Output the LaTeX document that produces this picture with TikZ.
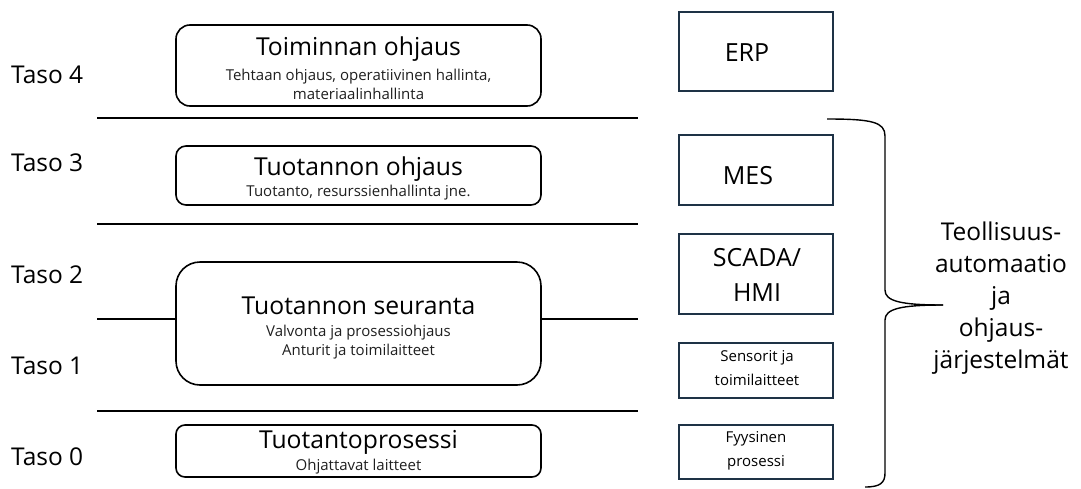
\documentclass[tikz,border=0pt]{standalone}
\usepackage{fontspec}
\setmainfont{Open Sans}
\usetikzlibrary{positioning}
\definecolor{sysnavy}{HTML}{1E3246}
\tikzset{
  layerbox/.style={draw=black, line width=1.6pt, rounded corners=#1, inner sep=0pt},
  layerbox/.default=14pt,
  sysbox/.style={draw=sysnavy, line width=1.8pt, inner sep=0pt, minimum width=154pt},
  bigtxt/.style={font=\fontsize{24.7}{28}\selectfont, inner sep=0pt, anchor=base},
  smalltxt/.style={font=\fontsize{15}{17}\selectfont, inner sep=0pt, anchor=base, text=black!88},
  tasotxt/.style={font=\fontsize{24.5}{28}\selectfont, inner sep=0pt, anchor=west},
  systxt/.style={font=\fontsize{25}{35}\selectfont, align=center, inner sep=0pt},
  sysmall/.style={font=\fontsize{15}{24}\selectfont, align=center, inner sep=0pt},
  sep/.style={line width=1.3pt}
}
\begin{document}
\begin{tikzpicture}[x=1pt, y=-1pt]
  %%%%% START %%%%%
  \useasboundingbox (0,0) rectangle (1081,488);

  % separator lines
  \draw[sep] (97,118) -- (638,118);
  \draw[sep] (97,224) -- (638,224);
  \draw[sep] (97,319) -- (177,319);
  \draw[sep] (540,319) -- (638,319);
  \draw[sep] (97,411) -- (638,411);

  % levels
  \node[tasotxt] (taso4) at (11,75) {Taso 4};
  \node[tasotxt] (taso3) at (11,163) {Taso 3};
  \node[tasotxt] (taso2) at (11,275) {Taso 2};
  \node[tasotxt] (taso1) at (11,366) {Taso 1};
  \node[tasotxt] (taso0) at (11,457) {Taso 0};

  % layer boxes
  \node[layerbox, minimum width=365pt, minimum height=81pt] (toiminta) at (358.5,65.5) {};
  \node[bigtxt] (toimintaT) at (358.5,55) {Toiminnan ohjaus};
  \node[smalltxt] (toimintaA) at (358.5,80) {Tehtaan ohjaus, operatiivinen hallinta,};
  \node[smalltxt] (toimintaB) at (358.5,99) {materiaalinhallinta};

  \node[layerbox=10pt, minimum width=365pt, minimum height=59pt] (ohjaus) at (358.5,175.5) {};
  \node[bigtxt] (ohjausT) at (358.5,175) {Tuotannon ohjaus};
  \node[smalltxt] (ohjausA) at (358.5,196) {Tuotanto, resurssienhallinta jne.};

  \node[layerbox=24pt, minimum width=365pt, minimum height=123pt] (seuranta) at (358.5,323.5) {};
  \node[bigtxt] (seurantaT) at (358.5,314) {Tuotannon seuranta};
  \node[smalltxt] (seurantaA) at (358.5,336) {Valvonta ja prosessiohjaus};
  \node[smalltxt] (seurantaB) at (358.5,355) {Anturit ja toimilaitteet};

  \node[layerbox=9pt, minimum width=365pt, minimum height=52pt] (prosessi) at (358.5,451) {};
  \node[bigtxt] (prosessiT) at (358.5,448) {Tuotantoprosessi};
  \node[smalltxt] (prosessiA) at (358.5,470) {Ohjattavat laitteet};

  % system boxes
  \node[sysbox, minimum height=79pt] (erp) at (756,51.5) {};
  \node[systxt] (erpT) at (747,53) {ERP};
  \node[sysbox, minimum height=70pt] (mes) at (756,170) {};
  \node[systxt] (mesT) at (748,176) {MES};
  \node[sysbox, minimum height=80pt] (scada) at (756,274) {};
  \node[systxt] (scadaT) at (757,275) {SCADA/\\HMI};
  \node[sysbox, minimum height=55pt] (sensorit) at (756,370.5) {};
  \node[sysmall] (sensoritT) at (757,368) {Sensorit ja\\toimilaitteet};
  \node[sysbox, minimum height=54pt] (fyysinen) at (756,452) {};
  \node[sysmall] (fyysinenT) at (756,451) {Fyysinen\\prosessi};

  % brace
  \draw[line width=1.4pt] (827,119) .. controls (872,119) and (885,122) .. (885,136) -- (885,290)
    .. controls (885,301) and (900,305) .. (943,305);
  \draw[line width=1.4pt] (943,305) .. controls (900,305) and (885,309) .. (885,320) -- (885,473)
    .. controls (885,483) and (880,487) .. (865,487);

  \node[font=\fontsize{24.5}{32}\selectfont, align=center, inner sep=0pt] (automaatio) at (1001,298)
    {Teollisuus-\\automaatio\\ja\\ohjaus-\\järjestelmät};
  %%%%% END %%%%%
\end{tikzpicture}
\end{document}
